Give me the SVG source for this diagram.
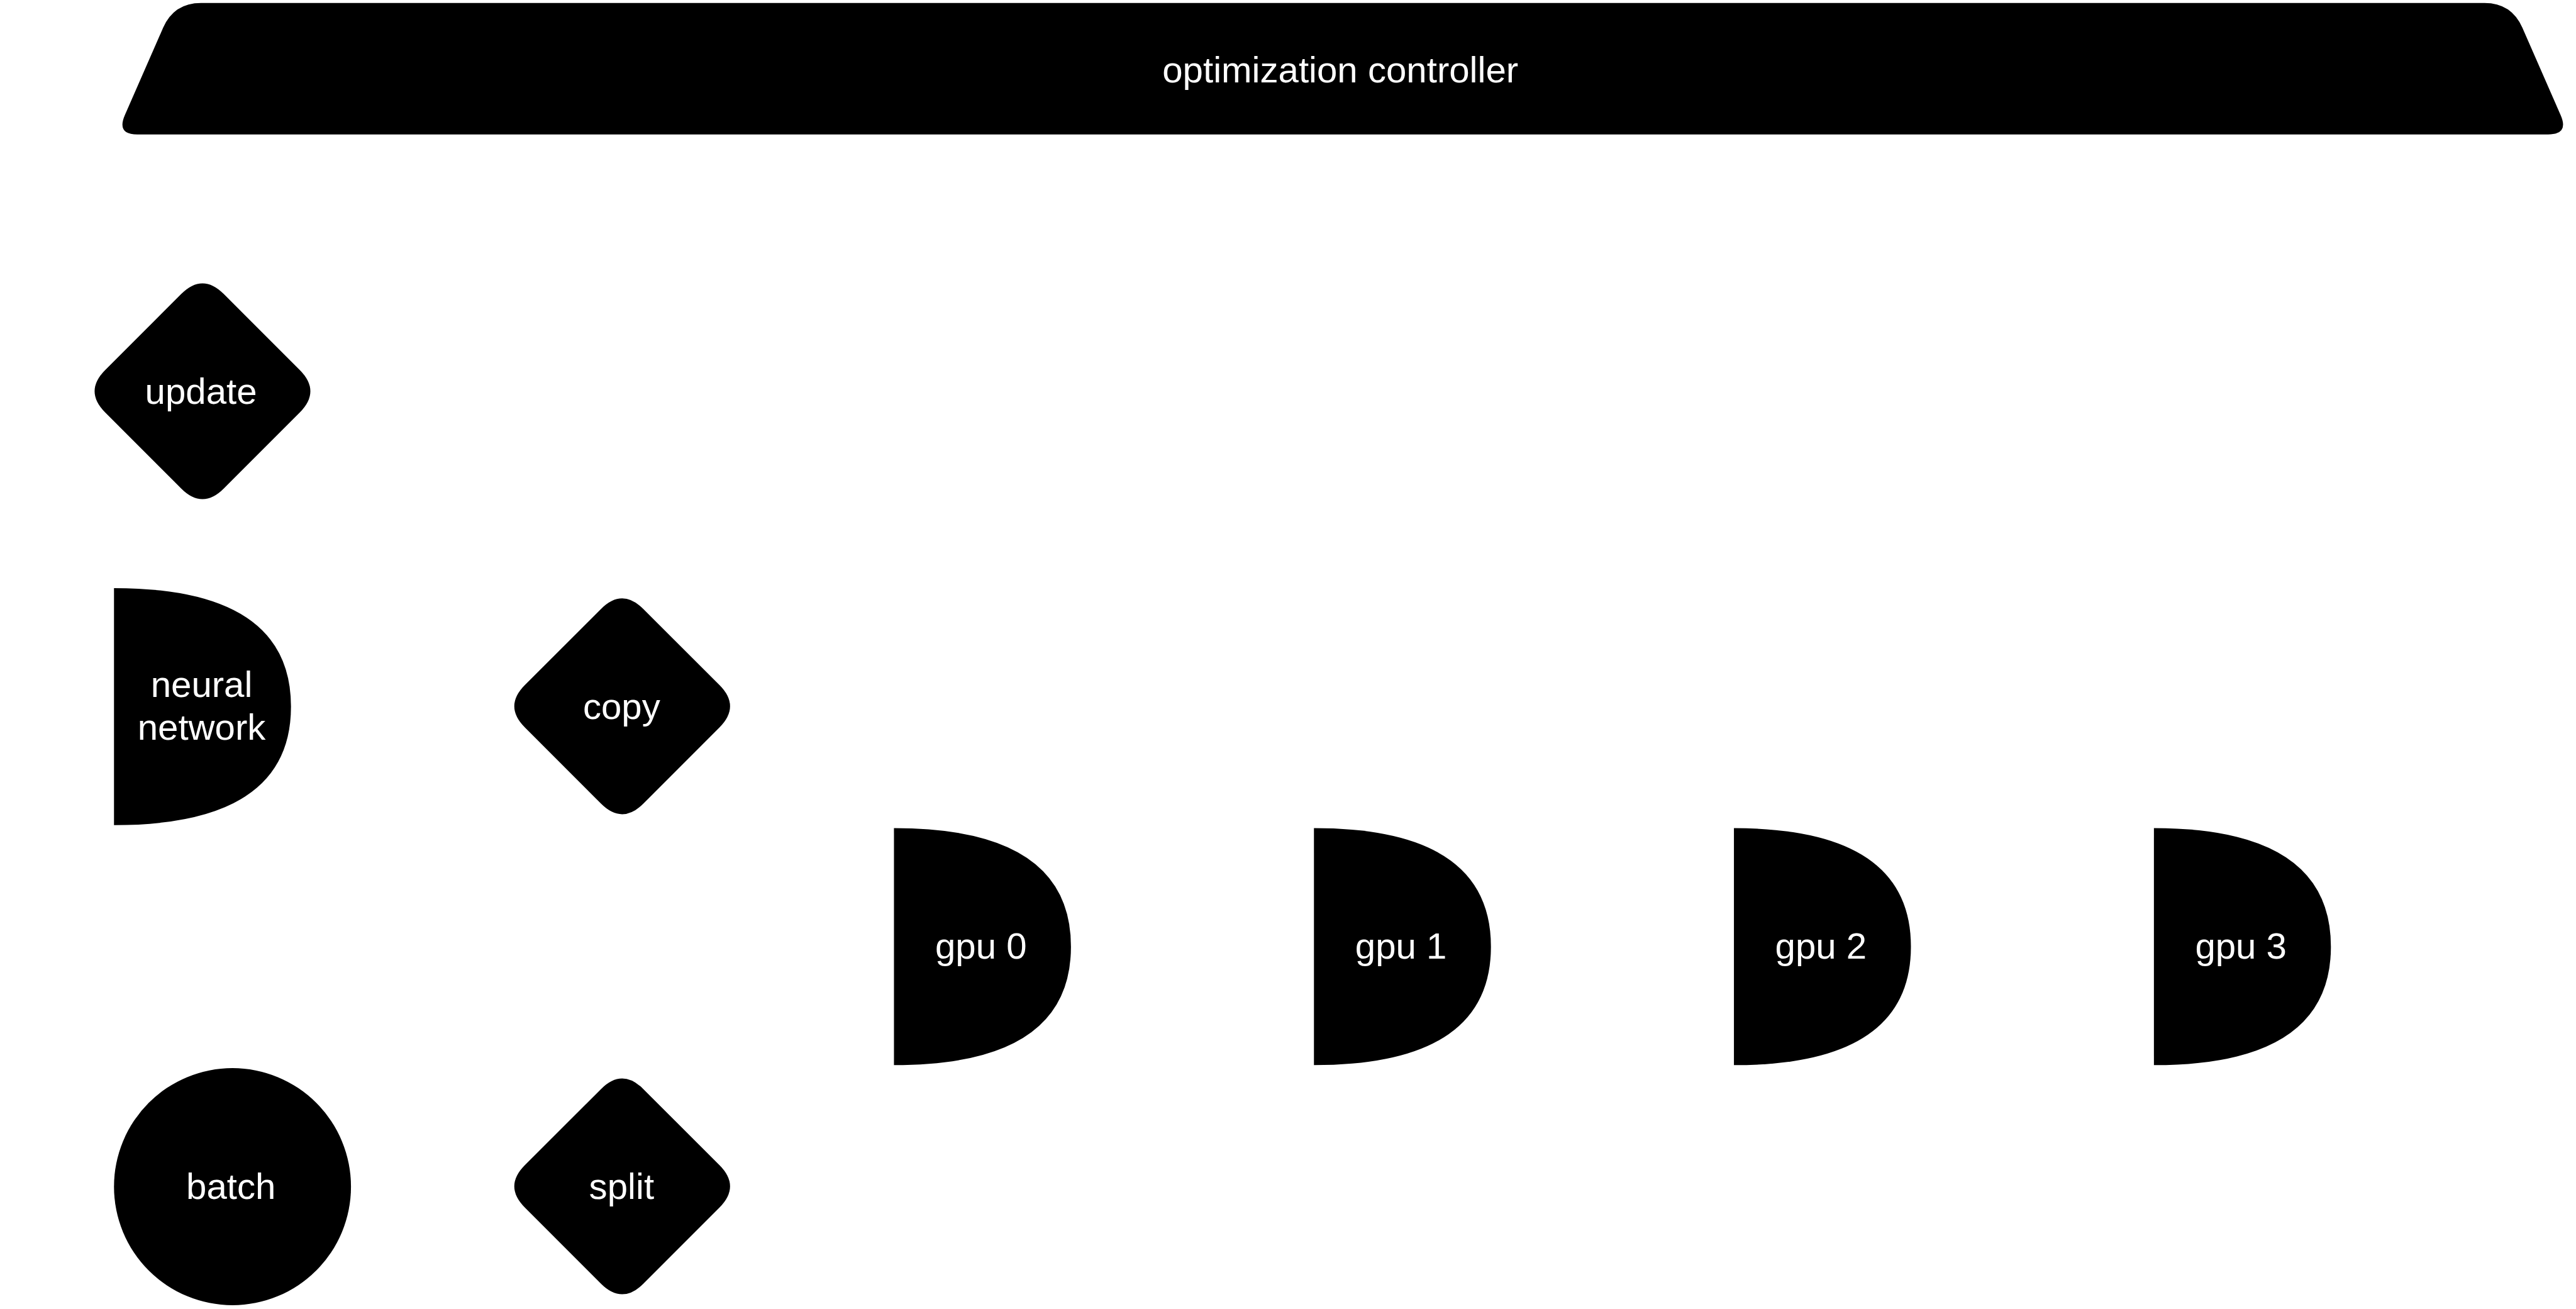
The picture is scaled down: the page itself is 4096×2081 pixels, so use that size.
<svg xmlns="http://www.w3.org/2000/svg" xmlns:xlink="http://www.w3.org/1999/xlink" width="4096" height="2081" viewBox="0 0 4096 2081">
<style>
.shape{fill:#000000;stroke:none}
.lbl{font-family:"Liberation Sans",Arial,sans-serif;font-size:61px;fill:#ffffff;text-anchor:middle}
</style>
<defs>
<path id="rhombus" d="M -35.36,-162.14 Q 0,-197.5 35.36,-162.14 L 162.14,-35.36 Q 197.5,0 162.14,35.36 L 35.36,162.14 Q 0,197.5 -35.36,162.14 L -162.14,35.36 Q -197.5,0 -162.14,-35.36 Z"/>
<path id="dshape" d="M 0,0 Q 295,0 295,197.5 Q 295,395 0,395 Z"/>
</defs>
<rect x="0" y="0" width="4096" height="2081" fill="#ffffff"/>
<g transform="scale(0.954)">
<g id="connectors"></g>
<g id="controller">
<path class="shape" d="M 335,5 L 4141,5 Q 4186,5 4204.1,46.2 L 4267.9,191.9 Q 4282,224 4247,224 L 229,224 Q 194,224 208.1,191.9 L 271.9,46.2 Q 290,5 335,5 Z"/>
<text class="lbl" x="2234" y="137">optimization controller</text>
</g>
<g id="update">
<use xlink:href="#rhombus" href="#rhombus" class="shape" transform="translate(337.5,652)"/>
<text class="lbl" x="335" y="673">update</text>
</g>
<g id="neural-network">
<use xlink:href="#dshape" href="#dshape" class="shape" transform="translate(190,980)"/>
<text class="lbl" x="336" y="1161">neural</text>
<text class="lbl" x="336" y="1233">network</text>
</g>
<g id="copy">
<use xlink:href="#rhombus" href="#rhombus" class="shape" transform="translate(1037,1177)"/>
<text class="lbl" x="1036" y="1198">copy</text>
</g>
<g id="gpu0">
<use xlink:href="#dshape" href="#dshape" class="shape" transform="translate(1490,1380)"/>
<text class="lbl" x="1635" y="1598">gpu 0</text>
</g>
<g id="gpu1">
<use xlink:href="#dshape" href="#dshape" class="shape" transform="translate(2190,1380)"/>
<text class="lbl" x="2335" y="1598">gpu 1</text>
</g>
<g id="gpu2">
<use xlink:href="#dshape" href="#dshape" class="shape" transform="translate(2890,1380)"/>
<text class="lbl" x="3035" y="1598">gpu 2</text>
</g>
<g id="gpu3">
<use xlink:href="#dshape" href="#dshape" class="shape" transform="translate(3590,1380)"/>
<text class="lbl" x="3735" y="1598">gpu 3</text>
</g>
<g id="batch">
<circle class="shape" cx="387.5" cy="1977.5" r="197.5"/>
<text class="lbl" x="385" y="1998">batch</text>
</g>
<g id="split">
<use xlink:href="#rhombus" href="#rhombus" class="shape" transform="translate(1037,1977)"/>
<text class="lbl" x="1036" y="1998">split</text>
</g>
</g>
</svg>
